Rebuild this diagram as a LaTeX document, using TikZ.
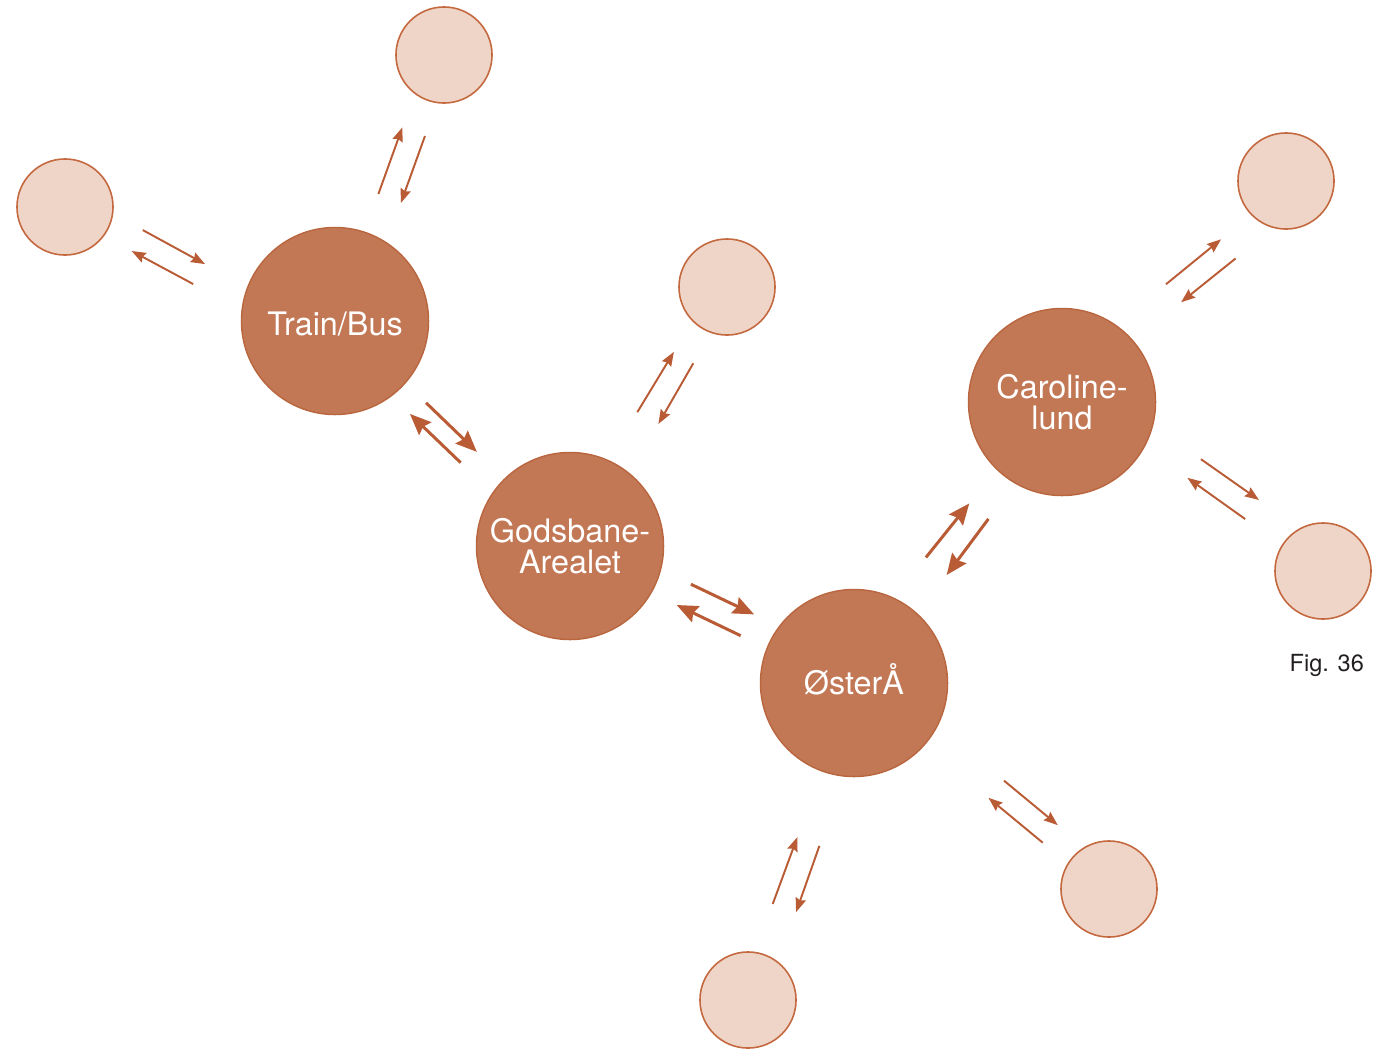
\documentclass[tikz,border=0pt]{standalone}
\usepackage{fontspec}
\setmainfont{TeX Gyre Heros}
\usetikzlibrary{calc,arrows.meta}
\definecolor{hubfill}{HTML}{C27755}
\definecolor{hubline}{HTML}{B9663F}
\definecolor{spotfill}{HTML}{EFD5C7}
\definecolor{spotline}{HTML}{C4683F}
\definecolor{flow}{HTML}{B95B35}
\definecolor{figtext}{HTML}{231F20}

\begin{document}
\begin{tikzpicture}[
    x=0.01cm, y=-0.01cm,
    hub/.style={circle, draw=hubline, fill=hubfill, line width=0.4pt, minimum size=1.87cm,
        inner sep=0pt, align=center, text=white, font=\fontsize{9.2}{9}\selectfont},
    spot/.style={circle, draw=spotline, fill=spotfill, line width=0.45pt, minimum size=0.96cm, inner sep=0pt},
    flowthin/.style={draw=flow, line width=0.55pt, -{Stealth[length=4pt,width=3pt,inset=0.5pt]}},
    flowthick/.style={draw=flow, line width=0.85pt, -{Stealth[length=6pt,width=5pt,inset=0.8pt]}}
]
    \useasboundingbox (0,0) rectangle (1376,1048);

    % main stations
    \node[hub, text height=8pt, text depth=0pt] (trainbus) at (335,321) {Train/Bus};
    \node[hub] (godsbane) at (570,546) {Godsbane-\\Arealet};
    \node[hub, text height=6.6pt, text depth=0pt] (oster) at (854,683) {ØsterÅ};
    \node[hub] (caroline) at (1062,402) {Caroline-\\lund};

    % outer points
    \node[spot] (tbtop) at (444,55) {};
    \node[spot] (tbleft) at (65,207) {};
    \node[spot] (gbtop) at (727,287) {};
    \node[spot] (cltop) at (1286,181) {};
    \node[spot] (clright) at (1323,571) {};
    \node[spot] (osright) at (1109,889) {};
    \node[spot] (osbottom) at (748,1000) {};

    \node[anchor=base west, inner sep=0pt, text=figtext, font=\fontsize{6.7}{8}\selectfont] (figlabel) at (1289,671) {Fig. 36};

    % arrows: from/to/start/offset/end/offset
    \foreach \a/\b/\ts/\ds/\te/\de in {
        trainbus/tbtop/0.466/0.080cm/0.712/0.111cm,
        tbtop/trainbus/0.286/0.131cm/0.533/0.162cm,
        trainbus/tbleft/0.495/0.211cm/0.732/0.146cm,
        tbleft/trainbus/0.275/0.090cm/0.516/0.019cm,
        godsbane/gbtop/0.493/0.118cm/0.726/0.118cm,
        gbtop/godsbane/0.273/0.107cm/0.504/0.123cm,
        caroline/cltop/0.498/0.108cm/0.723/0.041cm,
        cltop/caroline/0.287/0.197cm/0.508/0.126cm,
        caroline/clright/0.475/0.275cm/0.703/0.248cm,
        clright/caroline/0.301/-0.013cm/0.529/-0.045cm,
        oster/osright/0.543/0.183cm/0.756/0.175cm,
        osright/oster/0.246/0.056cm/0.461/0.048cm,
        oster/osbottom/0.495/0.188cm/0.705/0.177cm,
        osbottom/oster/0.296/0.070cm/0.509/0.049cm}
        \draw[flowthin] ($(\a)!\ts!(\b)!\ds!90:(\b)$) -- ($(\a)!\te!(\b)!\de!90:(\b)$);

    \foreach \a/\b/\ts/\ds/\te/\de in {
        trainbus/godsbane/0.376/0.039cm/0.593/0.036cm,
        godsbane/trainbus/0.420/0.154cm/0.636/0.153cm,
        godsbane/oster/0.398/0.181cm/0.620/0.184cm,
        oster/godsbane/0.389/0.066cm/0.614/0.068cm,
        oster/caroline/0.411/0.169cm/0.609/0.142cm,
        caroline/oster/0.394/0.104cm/0.594/0.102cm}
        \draw[flowthick] ($(\a)!\ts!(\b)!\ds!90:(\b)$) -- ($(\a)!\te!(\b)!\de!90:(\b)$);
\end{tikzpicture}
\end{document}
